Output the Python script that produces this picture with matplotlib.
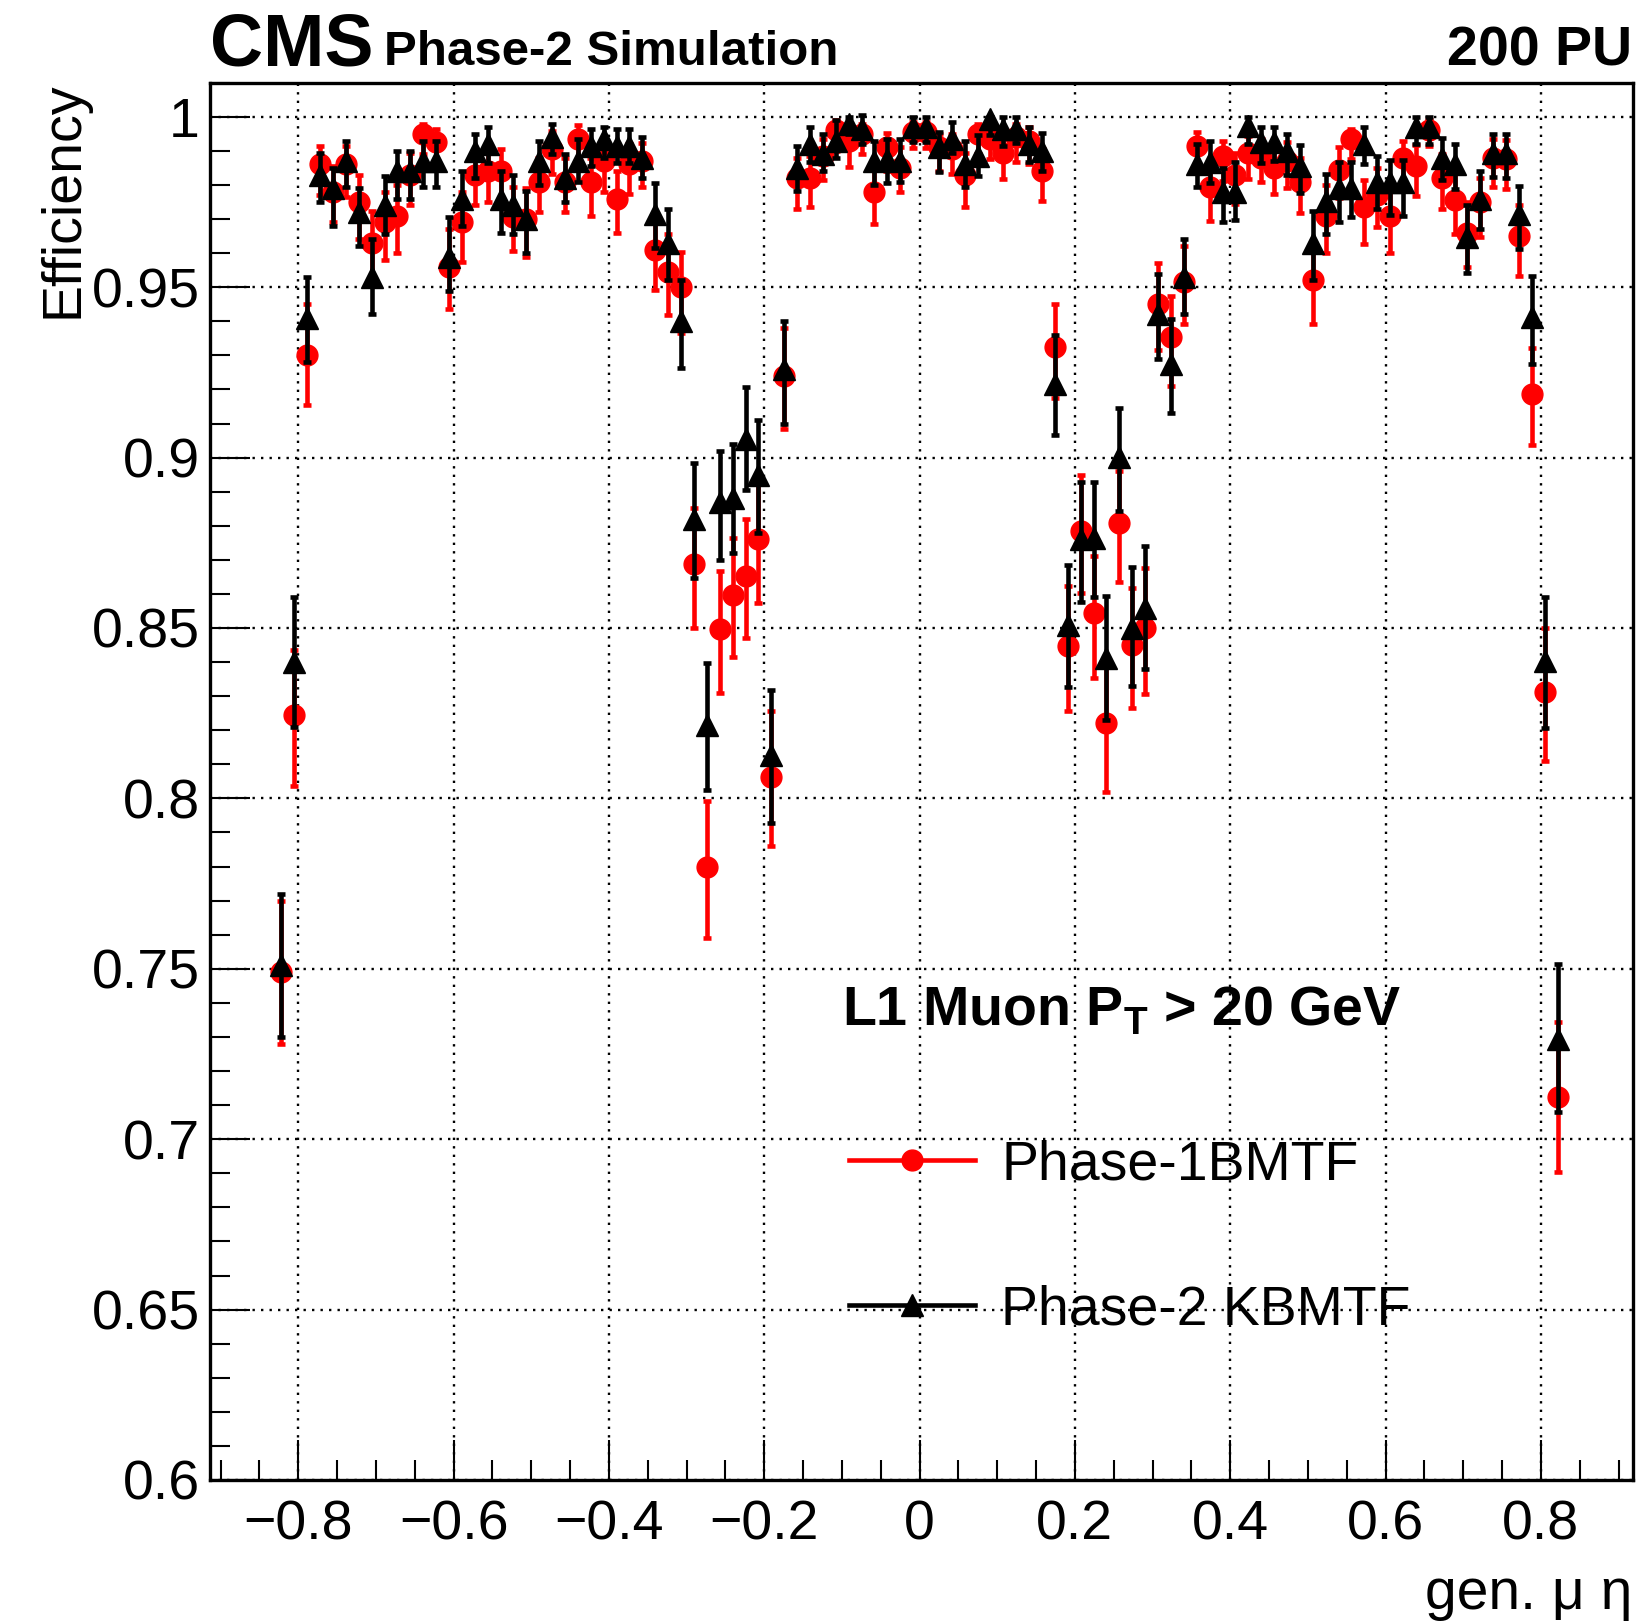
import numpy as np
import matplotlib
matplotlib.use("Agg")
import matplotlib.pyplot as plt
from matplotlib.lines import Line2D
from matplotlib.ticker import MultipleLocator, FuncFormatter

plt.rcParams['font.family'] = ['Liberation Sans', 'DejaVu Sans']
plt.rcParams['mathtext.fontset'] = 'custom'
plt.rcParams['mathtext.rm'] = 'Liberation Sans'
plt.rcParams['mathtext.bf'] = 'Liberation Sans:bold'

# binning of gen. muon eta (100 bins)
eta_min, eta_max, n_bins = -0.83, 0.83, 100

# Phase-1 BMTF efficiency per bin, with lower / upper errors
eff_p1 = [0.749, 0.8245, 0.930, 0.986, 0.978, 0.986, 0.975, 0.963, 0.969, 0.971,
          0.983, 0.995, 0.9925, 0.956, 0.969, 0.983, 0.984, 0.984, 0.9705, 0.970,
          0.981, 0.9905, 0.981, 0.9935, 0.981, 0.987, 0.976, 0.986, 0.987, 0.961,
          0.9546, 0.950, 0.8687, 0.780, 0.8496, 0.8597, 0.8654, 0.876, 0.8064, 0.924,
          0.982, 0.982, 0.9886, 0.996, 0.993, 0.995, 0.978, 0.991, 0.985, 0.9954,
          0.9954, 0.991, 0.9905, 0.983, 0.995, 0.9935, 0.9895, 0.994, 0.993, 0.984,
          0.9325, 0.8448, 0.8785, 0.8544, 0.822, 0.8808, 0.8451, 0.850, 0.9452, 0.9354,
          0.9515, 0.9915, 0.9795, 0.9886, 0.983, 0.9895, 0.988, 0.985, 0.987, 0.981,
          0.952, 0.971, 0.9844, 0.9935, 0.9736, 0.977, 0.971, 0.988, 0.9856, 0.996,
          0.982, 0.9756, 0.966, 0.975, 0.988, 0.9876, 0.965, 0.9186, 0.8313, 0.7125]
err_p1_lo = [0.021, 0.021, 0.0145, 0.009, 0.009, 0.0095, 0.011, 0.011, 0.011, 0.011,
             0.009, 0.006, 0.007, 0.0123, 0.0117, 0.009, 0.009, 0.010, 0.010, 0.011,
             0.009, 0.0073, 0.009, 0.007, 0.010, 0.009, 0.010, 0.0086, 0.0077, 0.0118,
             0.0129, 0.0135, 0.0187, 0.021, 0.0187, 0.0183, 0.0184, 0.0188, 0.0205, 0.0156,
             0.009, 0.0086, 0.0072, 0.006, 0.0076, 0.006, 0.0094, 0.0068, 0.007, 0.0045,
             0.0045, 0.007, 0.0073, 0.0094, 0.006, 0.006, 0.0078, 0.0074, 0.007, 0.0086,
             0.0151, 0.0192, 0.0182, 0.019, 0.020, 0.0174, 0.0185, 0.0195, 0.0137, 0.0145,
             0.0122, 0.007, 0.010, 0.0075, 0.0086, 0.0078, 0.0072, 0.0077, 0.008, 0.0093,
             0.0127, 0.011, 0.0081, 0.006, 0.0109, 0.0094, 0.011, 0.009, 0.0087, 0.0045,
             0.009, 0.010, 0.010, 0.0104, 0.0087, 0.0088, 0.0116, 0.015, 0.0203, 0.0222]
err_p1_hi = [0.021, 0.019, 0.015, 0.0055, 0.0075, 0.0055, 0.008, 0.0095, 0.009, 0.009,
             0.0065, 0.003, 0.004, 0.011, 0.009, 0.006, 0.006, 0.0065, 0.009, 0.009,
             0.007, 0.0054, 0.007, 0.004, 0.007, 0.006, 0.008, 0.006, 0.0053, 0.010,
             0.011, 0.0104, 0.0166, 0.0193, 0.0171, 0.0168, 0.0167, 0.0165, 0.0191, 0.014,
             0.006, 0.0065, 0.005, 0.003, 0.0048, 0.003, 0.0064, 0.0041, 0.006, 0.003,
             0.003, 0.004, 0.0045, 0.0065, 0.003, 0.004, 0.005, 0.004, 0.004, 0.0065,
             0.0125, 0.0176, 0.0164, 0.0168, 0.019, 0.0154, 0.0166, 0.0176, 0.012, 0.0119,
             0.0107, 0.0041, 0.0075, 0.0044, 0.0065, 0.005, 0.0055, 0.006, 0.0055, 0.007,
             0.011, 0.009, 0.0066, 0.003, 0.0078, 0.008, 0.009, 0.005, 0.006, 0.003,
             0.007, 0.008, 0.009, 0.007, 0.0055, 0.0055, 0.009, 0.0136, 0.0187, 0.0218]

# Phase-2 KBMTF efficiency per bin, with lower / upper errors
eff_p2 = [0.751, 0.840, 0.941, 0.983, 0.979, 0.987, 0.972, 0.953, 0.974, 0.984,
          0.984, 0.987, 0.987, 0.959, 0.976, 0.990, 0.992, 0.976, 0.974, 0.970,
          0.987, 0.994, 0.982, 0.987, 0.9915, 0.9935, 0.9915, 0.9915, 0.988, 0.9715,
          0.963, 0.940, 0.882, 0.8216, 0.887, 0.888, 0.9056, 0.895, 0.8128, 0.926,
          0.985, 0.992, 0.989, 0.993, 0.998, 0.9964, 0.987, 0.9876, 0.987, 0.997,
          0.997, 0.991, 0.9935, 0.986, 0.9886, 0.9993, 0.9964, 0.9964, 0.992, 0.990,
          0.9215, 0.851, 0.876, 0.8764, 0.8412, 0.9003, 0.850, 0.856, 0.942, 0.9275,
          0.953, 0.986, 0.9866, 0.978, 0.978, 0.9974, 0.9925, 0.9925, 0.990, 0.9856,
          0.963, 0.9754, 0.979, 0.979, 0.992, 0.981, 0.981, 0.981, 0.997, 0.997,
          0.988, 0.986, 0.9646, 0.976, 0.9895, 0.9895, 0.9715, 0.9412, 0.8403, 0.7293]
err_p2_lo = [0.021, 0.019, 0.013, 0.008, 0.011, 0.0075, 0.010, 0.011, 0.0085, 0.008,
             0.008, 0.0075, 0.0075, 0.010, 0.008, 0.008, 0.0055, 0.010, 0.0085, 0.010,
             0.007, 0.005, 0.007, 0.006, 0.006, 0.0055, 0.005, 0.005, 0.006, 0.010,
             0.011, 0.0136, 0.0172, 0.019, 0.017, 0.016, 0.015, 0.017, 0.020, 0.016,
             0.0067, 0.0054, 0.005, 0.005, 0.003, 0.0044, 0.007, 0.007, 0.006, 0.0045,
             0.0045, 0.0073, 0.004, 0.0065, 0.006, 0.0045, 0.005, 0.004, 0.0054, 0.006,
             0.015, 0.0183, 0.0185, 0.0173, 0.0182, 0.0159, 0.0169, 0.018, 0.013, 0.0144,
             0.011, 0.0065, 0.006, 0.009, 0.0083, 0.0054, 0.006, 0.0056, 0.007, 0.008,
             0.011, 0.0098, 0.010, 0.0085, 0.006, 0.008, 0.0098, 0.010, 0.005, 0.005,
             0.0066, 0.0073, 0.0105, 0.0089, 0.0071, 0.0075, 0.0103, 0.0137, 0.0195, 0.0212]
err_p2_hi = [0.021, 0.019, 0.012, 0.0065, 0.006, 0.006, 0.007, 0.011, 0.0085, 0.006,
             0.006, 0.006, 0.006, 0.0115, 0.008, 0.005, 0.005, 0.008, 0.009, 0.0083,
             0.006, 0.004, 0.007, 0.0065, 0.005, 0.0035, 0.005, 0.005, 0.006, 0.009,
             0.010, 0.012, 0.0164, 0.018, 0.015, 0.016, 0.015, 0.016, 0.019, 0.014,
             0.0065, 0.005, 0.006, 0.006, 0.002, 0.004, 0.006, 0.006, 0.0065, 0.003,
             0.003, 0.0045, 0.005, 0.007, 0.006, 0.0007, 0.0036, 0.0036, 0.005, 0.0053,
             0.0144, 0.0176, 0.0168, 0.0164, 0.0183, 0.0143, 0.0179, 0.018, 0.012, 0.0132,
             0.011, 0.006, 0.0064, 0.007, 0.0086, 0.0026, 0.0044, 0.0044, 0.005, 0.006,
             0.0093, 0.0078, 0.0076, 0.0076, 0.005, 0.0075, 0.0063, 0.0063, 0.003, 0.003,
             0.0057, 0.006, 0.0096, 0.0082, 0.0054, 0.0054, 0.0083, 0.012, 0.0188, 0.0222]

edges = np.linspace(eta_min, eta_max, n_bins + 1)
eta = 0.5 * (edges[:-1] + edges[1:])

W, H = 1644, 1622
fig = plt.figure(figsize=(W / 100, H / 100), dpi=100)
ax = fig.add_axes([209.7 / W, 1 - 1480 / H, (1632.5 - 209.7) / W, (1480 - 82.7) / H])

ax.errorbar(eta, eff_p1, yerr=[err_p1_lo, err_p1_hi], fmt='o', color='red',
            ms=15, elinewidth=3.3, capsize=3.2, capthick=3.3, zorder=3)
ax.errorbar(eta, eff_p2, yerr=[err_p2_lo, err_p2_hi], fmt='^', color='black',
            ms=16.5, elinewidth=3.3, capsize=3.2, capthick=3.3, zorder=4)

ax.set_xlim(-0.914, 0.918)
ax.set_ylim(0.6, 1.01)
ax.xaxis.set_major_locator(MultipleLocator(0.2))
ax.xaxis.set_minor_locator(MultipleLocator(0.05))
ax.yaxis.set_major_locator(MultipleLocator(0.05))
ax.yaxis.set_minor_locator(MultipleLocator(0.01))
fmt = FuncFormatter(lambda v, p: ('%g' % round(v, 3)).replace('-', '\u2212'))
ax.xaxis.set_major_formatter(fmt)
ax.yaxis.set_major_formatter(fmt)
ax.tick_params(which='both', direction='in', width=1.5, top=False, right=False)
ax.tick_params(which='major', length=29)
ax.tick_params(which='minor', length=14.5)
ax.tick_params(axis='x', labelsize=40, pad=14)
ax.tick_params(axis='y', labelsize=40, pad=7)
for s in ax.spines.values():
    s.set_linewidth(2.4)
ax.grid(True, which='major', color='black', linestyle=(0, (1, 2.6)), linewidth=1.7)
ax.set_axisbelow(True)

# header
fig.text(209.7 / W, 1 - 65 / H, 'CMS', fontsize=53, fontweight='bold', va='baseline')
fig.text(383.7 / W, 1 - 65 / H, 'Phase-2 Simulation', fontsize=35.5, fontweight='bold', va='baseline')
fig.text(1632.5 / W, 1 - 65 / H, '200 PU', fontsize=40, fontweight='bold', va='baseline', ha='right')

# axis titles
fig.text(63 / W, 1 - 82 / H, 'Efficiency', fontsize=40, rotation=90, ha='center', va='top')
fig.text(1632 / W, 1 - 1609 / H, 'gen. \u03bc \u03b7', fontsize=41, ha='right', va='baseline')

fig.text(842 / W, 1 - 1025 / H, r'L1 Muon P$_{\mathbf{T}}$ > 20 GeV', fontsize=40,
         fontweight='bold', va='baseline')

handles = [Line2D([], [], color='red', lw=3.3, marker='o', ms=15),
           Line2D([], [], color='black', lw=3.3, marker='^', ms=16.5)]
ax.legend(handles, ['Phase-1BMTF', 'Phase-2 KBMTF'], loc='upper left',
          bbox_to_anchor=(849 / W, 1 - 1139 / H), bbox_transform=fig.transFigure,
          frameon=False, fontsize=40, handlelength=2.27, handletextpad=0.47,
          labelspacing=1.68, borderpad=0, borderaxespad=0)

fig.savefig('out.png', dpi=100)
